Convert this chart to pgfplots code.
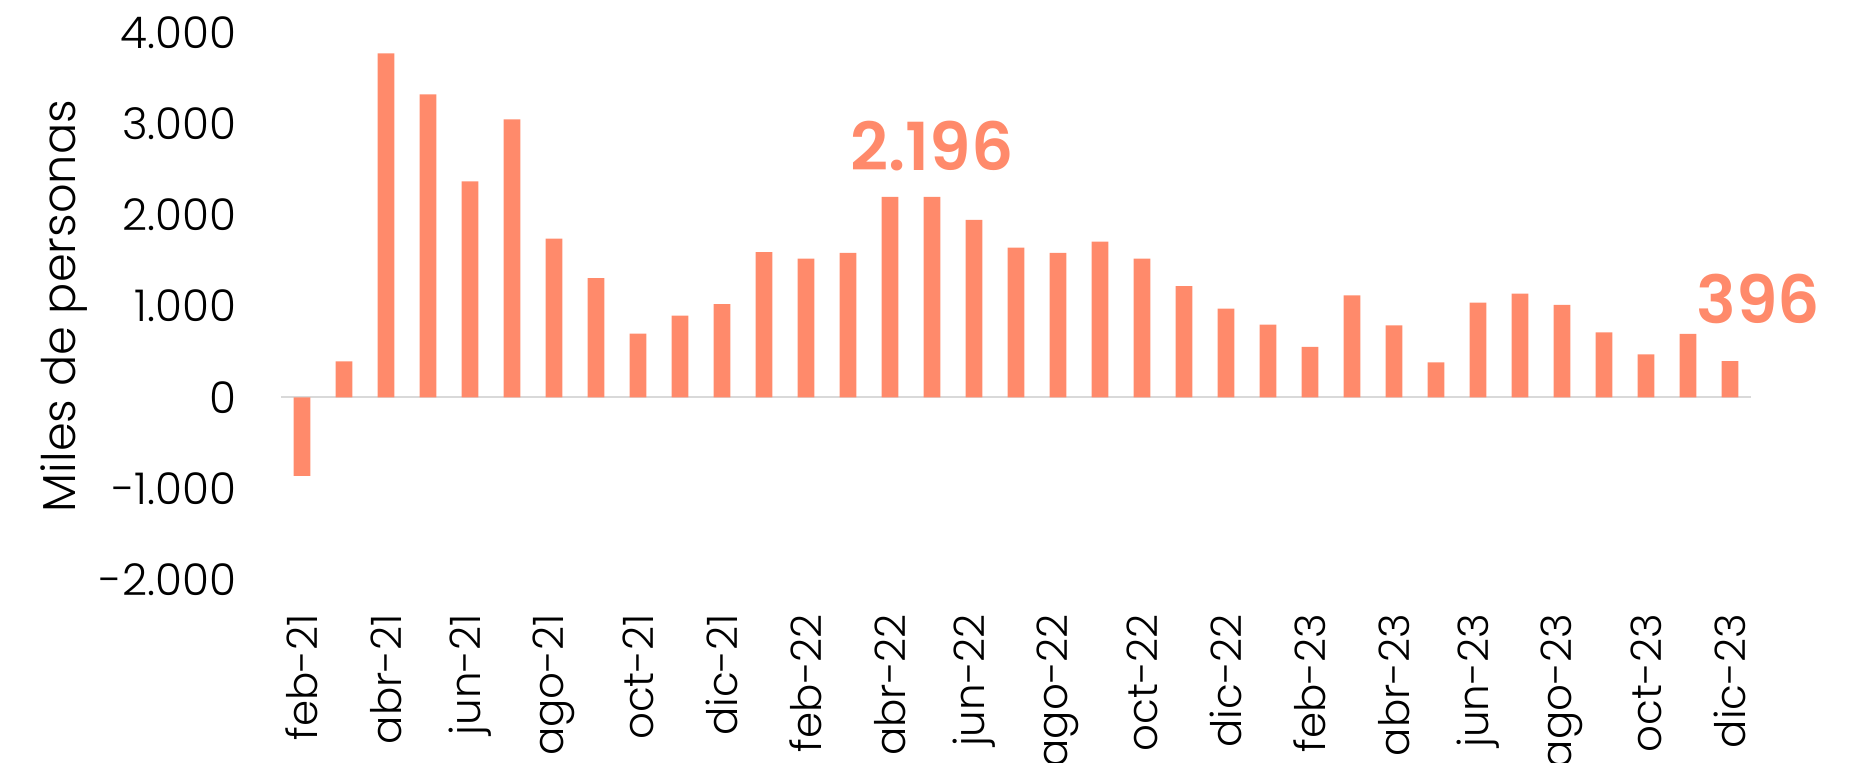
\documentclass[border=0pt]{standalone}
\usepackage{fontspec}
\setmainfont{Poppins}[UprightFont=* Light, BoldFont=* SemiBold]
\usepackage{pgfplots}
\pgfplotsset{compat=1.18}
\definecolor{barc}{HTML}{FF8A6B}
\definecolor{zline}{HTML}{D9D9D9}
\begin{document}
\begin{tikzpicture}
\path[use as bounding box] (-112.4pt,-73.28pt) rectangle (629.6pt,231.92pt);
\begin{axis}[
  at={(0,0)}, anchor=south west,
  scale only axis, width=588pt, height=219pt,
  xmin=-0.5, xmax=34.5, ymin=-2000, ymax=4000,
  axis line style={draw=none},
  major tick length=0pt,
  ytick={-2000,-1000,0,1000,2000,3000,4000},
  xtick={0,2,...,34},
  xticklabels={feb-21,abr-21,jun-21,ago-21,oct-21,dic-21,feb-22,abr-22,jun-22,ago-22,oct-22,dic-22,feb-23,abr-23,jun-23,ago-23,oct-23,dic-23},
  /pgf/number format/.cd, 1000 sep={.}, assume math mode=true,
  /pgfplots/.cd,
  yticklabel style={inner sep=0pt, anchor=east, xshift=-17.6pt, font=\fontsize{17.5}{19}\selectfont},
  xticklabel style={inner sep=0pt, yshift=-13.5pt, rotate=90, anchor=east, font=\fontsize{16.8}{18}\selectfont},
  extra y ticks={0}, extra y tick labels={},
  extra y tick style={grid=major, major grid style={draw=zline, line width=0.7pt}},
  ylabel={Miles de personas},
  every axis y label/.style={at={(axis description cs:-0.1476,0.5)}, rotate=90, anchor=center, font=\fontsize{18.5}{20}\selectfont},
  clip=false,
]
\addplot[ybar, bar width=0.4, fill=barc, draw=none] coordinates {
(0,-860) (1,395) (2,3769) (3,3319) (4,2366) (5,3046) (6,1739) (7,1307) (8,697) (9,895)
(10,1021) (11,1592) (12,1521) (13,1584) (14,2196) (15,2196) (16,1945) (17,1639) (18,1584) (19,1706)
(20,1521) (21,1218) (22,971) (23,797) (24,552) (25,1118) (26,788) (27,384) (28,1038) (29,1136)
(30,1013) (31,712) (32,471) (33,694) (34,396)
};
\node[anchor=base, text=barc, font=\bfseries\fontsize{26.5}{28}\selectfont, inner sep=0pt] at (axis cs:15,2483) {2.196};
\node[anchor=base, text=barc, font=\bfseries\fontsize{26.5}{28}\selectfont, inner sep=0pt] at (axis cs:34.67,814) {396};
\end{axis}
\end{tikzpicture}
\end{document}
